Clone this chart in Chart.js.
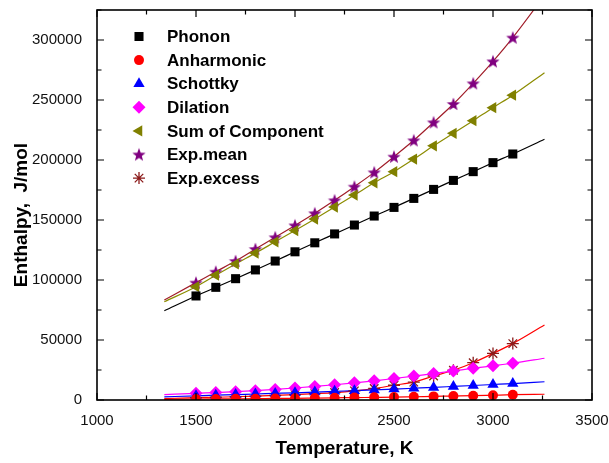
<!DOCTYPE html>
<html>
<head>
<meta charset="utf-8">
<script src="https://cdn.jsdelivr.net/npm/chart.js@4"></script>
<style>
  html, body { margin: 0; padding: 0; background: #fff; }
</style>
</head>
<body>
<canvas id="myChart" width="609" height="463"></canvas>
<script>
// temperatures of the measured points, K
const temps = [1500, 1600, 1700, 1800, 1900, 2000, 2100, 2200, 2300, 2400, 2500, 2600, 2700, 2800, 2900, 3000, 3100];

// enthalpy components, J/mol
const phonon      = [86700, 93900, 101100, 108400, 115800, 123500, 131000, 138400, 145800, 153300, 160500, 168000, 175500, 183000, 190300, 197800, 205000];
const anharmonic  = [800, 900, 1000, 1100, 1300, 1400, 1600, 1800, 2000, 2200, 2400, 2700, 3000, 3300, 3600, 4000, 4400];
const schottky    = [3500, 4000, 4500, 5000, 5500, 6000, 6600, 7200, 7800, 8400, 9100, 9800, 10500, 11300, 12100, 12900, 13700];
const dilation    = [5600, 6200, 6900, 7800, 8800, 10000, 11300, 12700, 14300, 16000, 17900, 19900, 22000, 24200, 26500, 28500, 30600];
const sumComp     = [94400, 104000, 113400, 122400, 131800, 141200, 150800, 160800, 170800, 181000, 190300, 200800, 211800, 222200, 232800, 243600, 254000];
const expMean     = [97800, 106900, 115800, 125800, 135600, 145500, 155600, 166400, 177800, 189700, 202800, 216400, 231400, 246700, 263900, 282200, 302000];
const expExcess   = [2000, 2300, 2700, 3200, 3800, 4500, 5300, 6200, 7600, 9600, 12300, 14900, 20000, 24800, 31100, 38800, 47000];

// fitted curves run a little past the data on both sides
const fitT = [1340, 3260];
const phononFitEnds     = [74400, 217300];
const anharmonicFitEnds = [600, 4800];
const schottkyFitEnds   = [2600, 15200];
const dilationFitEnds   = [4500, 34800];
const sumCompFitEnds    = [81900, 272700];
const expMeanFitEnds    = [83300, 337000];
const expExcessFitEnds  = [1200, 62500];

const xTicks = [1000, 1500, 2000, 2500, 3000, 3500];
const yTicks = [0, 50000, 100000, 150000, 200000, 250000, 300000];

const FONT = "'Liberation Sans', Arial, sans-serif";

// filled five point star for Exp.mean
function makeStar(r, color) {
    const c = document.createElement('canvas');
    c.width = c.height = Math.ceil(2 * r + 2);
    const g = c.getContext('2d');
    const cx = c.width / 2, cy = c.height / 2 + r * 0.08;
    g.beginPath();
    for (let i = 0; i < 10; i++) {
        const rr = i % 2 ? r * 0.42 : r;
        const a = -Math.PI / 2 + i * Math.PI / 5;
        g.lineTo(cx + rr * Math.cos(a), cy + rr * Math.sin(a));
    }
    g.closePath();
    g.fillStyle = color;
    g.fill();
    return c;
}
const starImg = makeStar(7, '#800080');

const toPts = (vals) => temps.map((t, i) => ({ x: t, y: vals[i] }));
const toFit = (vals, ends) => [{ x: fitT[0], y: ends[0] }, ...toPts(vals), { x: fitT[1], y: ends[1] }];

const series = [
    { label: 'Phonon', vals: phonon, ends: phononFitEnds, style: 'rect', radius: 6.4, rot: 0, fill: '#000', stroke: '#000', line: '#000' },
    { label: 'Anharmonic', vals: anharmonic, ends: anharmonicFitEnds, style: 'circle', radius: 5, rot: 0, fill: '#ff0000', stroke: '#ff0000', line: '#ff0000' },
    { label: 'Schottky', vals: schottky, ends: schottkyFitEnds, style: 'triangle', radius: 6.5, rot: 0, fill: '#0000ff', stroke: '#0000ff', line: '#0000ff' },
    { label: 'Dilation', vals: dilation, ends: dilationFitEnds, style: 'rectRot', radius: 6.5, rot: 0, fill: '#ff00ff', stroke: '#ff00ff', line: '#ff00ff' },
    { label: 'Sum of Component', vals: sumComp, ends: sumCompFitEnds, style: 'triangle', radius: 6.5, rot: -90, fill: '#808000', stroke: '#808000', line: '#8c8c00' },
    { label: 'Exp.mean', vals: expMean, ends: expMeanFitEnds, style: starImg, radius: 7, rot: 0, fill: '#800080', stroke: '#800080', line: '#a01c28' },
    { label: 'Exp.excess', vals: expExcess, ends: expExcessFitEnds, style: 'star', radius: 6, rot: 0, fill: '#8b1a1a', stroke: '#8b1a1a', line: '#ff0000' },
];

const markerSets = series.map(s => ({
    label: s.label,
    data: toPts(s.vals),
    showLine: false,
    pointStyle: s.style,
    pointRadius: s.radius,
    pointRotation: s.rot,
    backgroundColor: s.fill,
    borderColor: s.stroke,
    borderWidth: s.style === 'star' ? 1.3 : 0,
}));

const fitSets = series.map(s => ({
    label: s.label + ' fit',
    data: toFit(s.vals, s.ends),
    pointRadius: 0,
    borderColor: s.line,
    borderWidth: 1.2,
    tension: 0.4,
    cubicInterpolationMode: 'monotone',
    fill: false,
}));

const framePlugin = {
    id: 'frame',
    afterDatasetsDraw(chart) {
        const { ctx, chartArea: a, scales: { x, y } } = chart;
        ctx.save();
        ctx.strokeStyle = '#000';
        ctx.lineWidth = 1.6;
        ctx.strokeRect(a.left, a.top, a.right - a.left, a.bottom - a.top);

        // inward tick marks on all four sides
        ctx.lineWidth = 1.2;
        ctx.beginPath();
        for (let v = 1000; v <= 3500; v += 250) {
            const px = x.getPixelForValue(v);
            const len = v % 500 === 0 ? 7 : 4.5;
            ctx.moveTo(px, a.bottom); ctx.lineTo(px, a.bottom - len);
            ctx.moveTo(px, a.top); ctx.lineTo(px, a.top + len);
        }
        for (let v = 0; v <= 325000; v += 25000) {
            const py = y.getPixelForValue(v);
            const len = v % 50000 === 0 ? 7 : 4.5;
            ctx.moveTo(a.left, py); ctx.lineTo(a.left + len, py);
            ctx.moveTo(a.right, py); ctx.lineTo(a.right - len, py);
        }
        ctx.stroke();

        // legend inside the plot
        ctx.font = 'bold 17px ' + FONT;
        ctx.textBaseline = 'middle';
        ctx.textAlign = 'left';
        series.forEach((s, i) => {
            const ly = 36.5 + i * 23.6;
            ctx.fillStyle = s.fill;
            ctx.strokeStyle = s.stroke;
            ctx.lineWidth = 1.3;
            Chart.helpers.drawPoint(ctx, {
                pointStyle: s.style, radius: s.radius, rotation: s.rot,
                borderWidth: s.style === 'star' ? 1.3 : 0,
            }, 139, ly);
            ctx.fillStyle = '#000';
            ctx.fillText(s.label, 167, ly + 1);
        });

        // axis titles
        ctx.font = 'bold 19px ' + FONT;
        ctx.textAlign = 'center';
        ctx.fillText('Temperature, K', (a.left + a.right) / 2, 449);
        ctx.translate(22, 215);
        ctx.rotate(-Math.PI / 2);
        ctx.fillText('Enthalpy,  J/mol', 0, 0);
        ctx.restore();
    }
};

const noPad = (scale) => {
    scale.paddingTop = scale.paddingBottom = scale.paddingLeft = scale.paddingRight = 0;
};

const config = {
    type: 'line',
    data: { datasets: [...markerSets, ...fitSets] },
    options: {
        responsive: false,
        animation: false,
        layout: { autoPadding: false, padding: { left: 0, right: 17, top: 10, bottom: 0 } },
        plugins: { legend: { display: false }, tooltip: { enabled: false } },
        scales: {
            x: {
                type: 'linear',
                min: 1000,
                max: 3500,
                grid: { display: false },
                border: { display: false },
                afterBuildTicks: (scale) => { scale.ticks = xTicks.map(v => ({ value: v })); },
                afterFit: (scale) => { scale.height = 63; noPad(scale); },
                ticks: {
                    padding: 4,
                    color: '#111',
                    font: { family: FONT, size: 15 },
                    maxRotation: 0,
                    callback: (v) => String(v),
                },
            },
            y: {
                type: 'linear',
                min: 0,
                max: 325000,
                grid: { display: false },
                border: { display: false },
                afterBuildTicks: (scale) => { scale.ticks = yTicks.map(v => ({ value: v })); },
                afterFit: (scale) => { scale.width = 97; noPad(scale); },
                ticks: {
                    padding: 7,
                    color: '#111',
                    font: { family: FONT, size: 15 },
                    callback: (v) => String(v),
                },
            },
        },
    },
    plugins: [framePlugin],
};

const myChart = new Chart(document.getElementById('myChart').getContext('2d'), config);
</script>
</body>
</html>
